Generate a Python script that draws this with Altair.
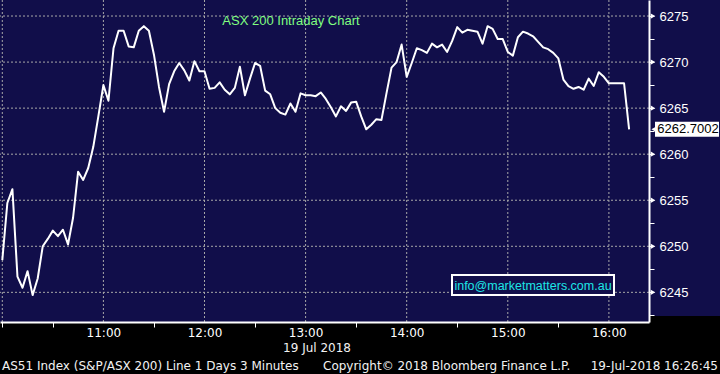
import altair as alt
import pandas as pd

# ---- data (3-minute bars from 10:00) ----
values = [
    6248.5, 6254.7, 6256.2, 6246.7, 6245.5, 6247.3, 6244.7, 6246.5, 6250.0, 6250.8,
    6251.7, 6251.1, 6251.8, 6250.2, 6253.1, 6258.1, 6257.2, 6258.5, 6260.8, 6264.1,
    6267.5, 6265.8, 6271.5, 6273.4, 6273.4, 6271.7, 6271.6, 6273.4, 6273.9, 6273.4,
    6270.8, 6267.3, 6264.6, 6267.6, 6269.0, 6269.9, 6269.1, 6268.0, 6270.1, 6269.0,
    6269.0, 6267.1, 6267.2, 6267.8, 6267.0, 6266.5, 6267.2, 6269.5, 6266.4, 6268.2,
    6269.9, 6269.6, 6266.9, 6266.5, 6265.0, 6264.5, 6264.3, 6265.5, 6264.6, 6266.6,
    6266.4, 6266.4, 6266.3, 6266.7, 6266.0, 6265.1, 6264.1, 6265.2, 6264.7, 6265.6,
    6265.7, 6264.1, 6262.7, 6263.2, 6263.8, 6263.7, 6266.6, 6269.4, 6270.0, 6271.9,
    6268.4, 6269.9, 6271.5, 6271.3, 6271.0, 6272.0, 6271.6, 6271.9, 6271.1, 6272.3,
    6273.8, 6273.2, 6273.5, 6273.4, 6273.3, 6272.0, 6273.9, 6273.6, 6272.5, 6272.5,
    6271.1, 6270.7, 6272.7, 6273.3, 6273.1, 6272.8, 6272.2, 6271.6, 6271.4, 6271.0,
    6270.4, 6268.1, 6267.4, 6267.1, 6267.3, 6267.0, 6268.2, 6267.4, 6268.9, 6268.4,
    6267.7, 6267.7, 6267.7, 6267.7, 6262.7002,
]
bar_minutes = 3  # "Line 1 Days 3 Minutes"
minutes = [bar_minutes * i for i in range(len(values))]  # minutes since 10:00

y_major = [6245, 6250, 6255, 6260, 6265, 6270, 6275]
y_ticks = [6242.5, 6245, 6247.5, 6250, 6252.5, 6255, 6257.5, 6260, 6262.5,
           6265, 6267.5, 6270, 6272.5, 6275]
x_hours = [0, 60, 120, 180, 240, 300, 360]          # 10:00 .. 16:00
x_ticks = [0, 30, 60, 90, 120, 150, 180, 210, 240, 270, 300, 330, 360]

title_text = "ASX 200 Intraday Chart"
info_text = "info@marketmatters.com.au"
date_text = "19 Jul 2018"
footer_left = "AS51 Index (S&P/ASX 200) Line 1 Days 3 Minutes"
footer_mid = "Copyright\u00a9 2018 Bloomberg Finance L.P."
footer_right = "19-Jul-2018 16:26:45"

# ---- styling ----
W, H = 649, 322
NAVY = "#110e4a"
GRID = "#a8a8a8"
xs = alt.Scale(domain=[-1.365, 383.8], nice=False, zero=False)
ys = alt.Scale(domain=[6241.78, 6276.74], nice=False, zero=False)

x_axis = alt.Axis(
    values=x_ticks, title=None, grid=False, labelOverlap=False, zindex=2,
    labelExpr="datum.value % 60 == 0 && datum.value > 0 ? (10 + datum.value / 60) + ':00' : ''",
    domainColor="white", domainWidth=2, tickColor="white", tickSize=5, tickWidth=1,
    tickOpacity={"condition": {"test": "datum.value % 60 == 0 && datum.value > 0", "value": 0}, "value": 1},
    labelColor="white", labelFont="DejaVu Sans", labelFontSize=12, labelPadding=0,
    labelFlush=False,
)
y_axis = alt.Axis(
    orient="right", values=y_ticks, title=None, grid=False, labelOverlap=False, zindex=2,
    format="d", labelExpr="datum.value % 5 == 0 ? datum.label : ''",
    domainColor="white", domainWidth=2, tickColor="white", tickSize=5, tickWidth=1,
    labelColor="white", labelFont="Liberation Sans", labelFontSize=13, labelPadding=5,
    labelFlush=False,
)

def X(field):
    return alt.X(field, scale=xs, axis=x_axis)

def Y(field):
    return alt.Y(field, scale=ys, axis=y_axis)

df = pd.DataFrame({"t": minutes, "v": values})
last_df = pd.DataFrame({"t": [minutes[-1]], "v": [values[-1]],
                        "label": [f"{values[-1]:.4f}"]})
last_df["v_hi"] = last_df["v"] + 0.82
last_df["v_lo"] = last_df["v"] - 0.82
one = pd.DataFrame({"a": [0]})

right_panel = alt.Chart(one).mark_rect(color=NAVY, clip=False).encode(
    x=alt.value(649), x2=alt.value(720), y=alt.value(0), y2=alt.value(316))

hgrid = alt.Chart(pd.DataFrame({"v": y_major})).mark_rule(
    color=GRID, strokeDash=[2, 2], strokeWidth=1).encode(y=Y("v:Q"))

vgrid = alt.Chart(pd.DataFrame({"t": x_hours})).mark_rule(
    color=GRID, strokeDash=[2, 2], strokeWidth=1).encode(x=X("t:Q"))

line = alt.Chart(df).mark_line(color="white", strokeWidth=2, strokeJoin="round").encode(
    x=X("t:Q"), y=Y("v:Q"))

major_marks = alt.Chart(pd.DataFrame({"v": y_major})).mark_point(
    shape="triangle-right", filled=True, color="white", opacity=1, size=28, clip=False).encode(
    x=alt.value(653), y=Y("v:Q"))

last_box = alt.Chart(last_df).mark_rect(color="white", clip=False).encode(
    x=alt.value(655), x2=alt.value(719), y=Y("v_hi:Q"), y2="v_lo:Q")
last_arrow = alt.Chart(last_df).mark_point(
    shape="triangle-left", filled=True, color="white", opacity=1, size=70, clip=False).encode(
    x=alt.value(655), y=Y("v:Q"))
last_text = alt.Chart(last_df).mark_text(
    color="black", font="Liberation Sans", fontSize=13, align="center",
    baseline="middle", clip=False).encode(
    x=alt.value(688), y=Y("v:Q"), text="label:N")

title = alt.Chart(one).mark_text(
    color="#80ff80", font="Liberation Sans", fontSize=13, align="center",
    baseline="alphabetic").encode(
    x=alt.value(291), y=alt.value(25), text=alt.value(title_text))

info_box = alt.Chart(one).mark_rect(
    fill=NAVY, stroke="white", strokeWidth=2).encode(
    x=alt.value(452), x2=alt.value(614), y=alt.value(275), y2=alt.value(295))
info = alt.Chart(one).mark_text(
    color="#1de6e6", font="Liberation Sans", fontSize=12.5, align="center",
    baseline="alphabetic").encode(
    x=alt.value(533), y=alt.value(290), text=alt.value(info_text))

def foot(txt, x, y, align):
    return alt.Chart(one).mark_text(
        color="#f2f2f2", font="DejaVu Sans", fontSize=12, align=align,
        baseline="alphabetic", clip=False).encode(
        x=alt.value(x), y=alt.value(y), text=alt.value(txt))

date_lbl = foot(date_text, 351, 352, "right")
f1 = foot(footer_left, 2, 370, "left")
f2 = foot(footer_mid, 323, 370, "left")
f3 = foot(footer_right, 718, 370, "right")

chart = alt.layer(
    right_panel, hgrid, vgrid, line, major_marks, last_box, last_arrow, last_text,
    title, info_box, info, date_lbl, f1, f2, f3,
).properties(
    width=W, height=H, background="black",
    padding={"left": 0, "top": 0, "right": 71, "bottom": 52},
    autosize=alt.AutoSizeParams(type="none"),
).configure_view(fill=NAVY, stroke=None)

chart.save("out.html", embed_options={"renderer": "svg", "actions": False})
